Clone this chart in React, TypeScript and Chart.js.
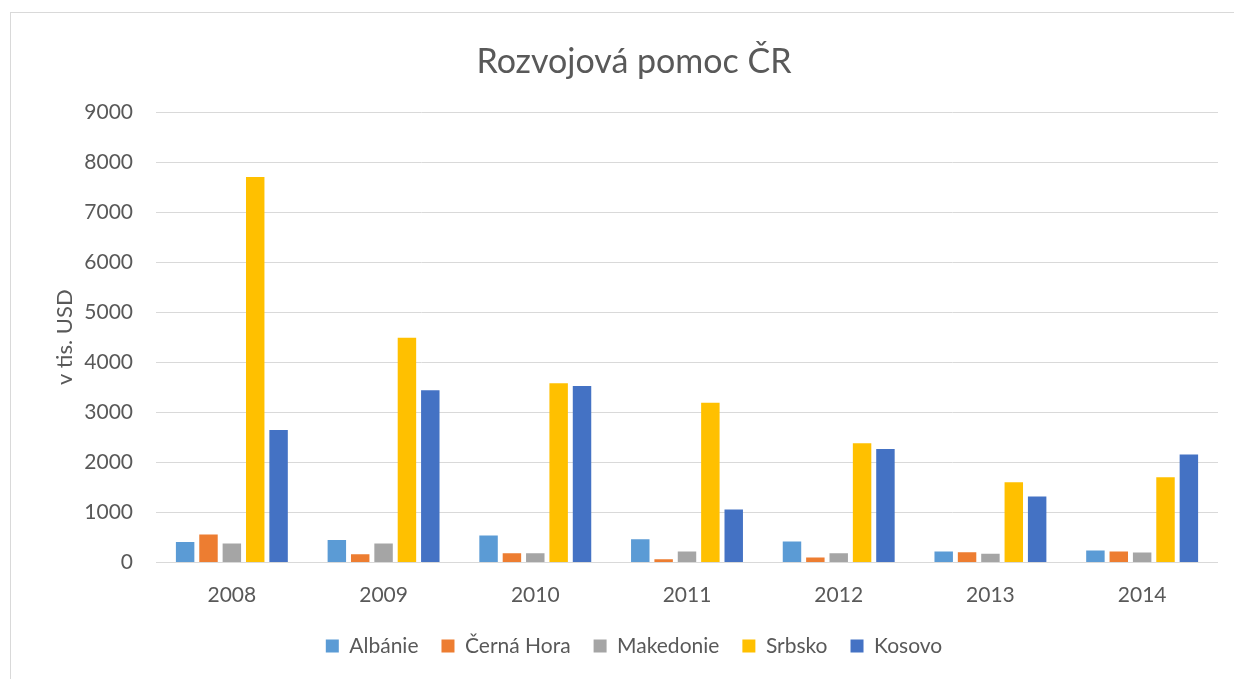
import React, { useEffect, useRef } from "react";
import { Chart, registerables } from "chart.js";

Chart.register(...registerables);

const years = ["2008", "2009", "2010", "2011", "2012", "2013", "2014"];
const albanie = [410, 450, 540, 465, 420, 220, 240];
const cernaHora = [560, 165, 185, 65, 100, 205, 220];
const makedonie = [380, 380, 185, 220, 185, 175, 200];
const srbsko = [7700, 4490, 3580, 3190, 2380, 1605, 1705];
const kosovo = [2645, 3440, 3525, 1060, 2265, 1320, 2160];

const seriesNames = ["Albánie", "Černá Hora", "Makedonie", "Srbsko", "Kosovo"];
const seriesColors = ["#5B9BD5", "#ED7D31", "#A5A5A5", "#FFC000", "#4472C4"];
const seriesValues = [albanie, cernaHora, makedonie, srbsko, kosovo];

const chartTitle = "Rozvojová pomoc ČR";
const yTitle = "v tis. USD";
const yMax = 9000;
const yStep = 1000;

const FONT = "Lato, 'Noto Sans', sans-serif";
const TEXT = "#595959";

export default function App() {
  const ref = useRef<HTMLCanvasElement | null>(null);

  useEffect(() => {
    if (!ref.current) return;
    const chart = new Chart(ref.current, {
      type: "bar",
      data: {
        labels: years,
        datasets: seriesNames.map((name, i) => ({
          label: name,
          data: seriesValues[i],
          backgroundColor: seriesColors[i],
          borderWidth: 0,
          categoryPercentage: 0.77,
          barPercentage: 0.79,
        })),
      },
      options: {
        responsive: false,
        animation: false,
        devicePixelRatio: 1,
        layout: { padding: { left: 50, right: 16, top: 0, bottom: 12.5 } },
        plugins: {
          title: {
            display: true,
            text: chartTitle,
            color: TEXT,
            font: { family: FONT, size: 34, weight: "normal" },
            padding: { top: 41.6, bottom: 29.6 },
          },
          legend: {
            position: "bottom",
            labels: {
              boxWidth: 13,
              boxHeight: 13,
              padding: 23,
              color: TEXT,
              font: { family: FONT, size: 21 },
            },
          },
          tooltip: { enabled: false },
        },
        scales: {
          x: {
            grid: { display: false, drawTicks: false },
            border: { display: false },
            ticks: { color: TEXT, font: { family: FONT, size: 21 }, padding: 20 },
            afterFit: (s: any) => {
              s.height = 50;
            },
          },
          y: {
            min: 0,
            max: yMax,
            ticks: {
              stepSize: yStep,
              color: TEXT,
              font: { family: FONT, size: 21 },
              padding: 23,
              callback: (v: any) => String(v),
            },
            grid: { color: "#D9D9D9", lineWidth: 1, drawTicks: false },
            border: { display: false },
            title: {
              display: true,
              text: yTitle,
              color: TEXT,
              font: { family: FONT, size: 22, weight: "normal" },
              padding: { top: 1.8, bottom: 0 },
            },
            afterFit: (s: any) => {
              s.width = 106;
            },
          },
        },
      },
    });
    return () => chart.destroy();
  }, []);

  return (
    <div
      style={{
        position: "fixed",
        left: 0,
        top: 0,
        width: 1234,
        height: 679,
        background: "#fff",
        overflow: "hidden",
      }}
    >
      <div
        style={{
          position: "absolute",
          left: 10,
          top: 12,
          width: 1260,
          height: 720,
          border: "1.5px solid #D9D9D9",
          boxSizing: "border-box",
        }}
      />
      <canvas
        ref={ref}
        width={1234}
        height={679}
        style={{ position: "absolute", left: 0, top: 0, width: 1234, height: 679 }}
      />
    </div>
  );
}
